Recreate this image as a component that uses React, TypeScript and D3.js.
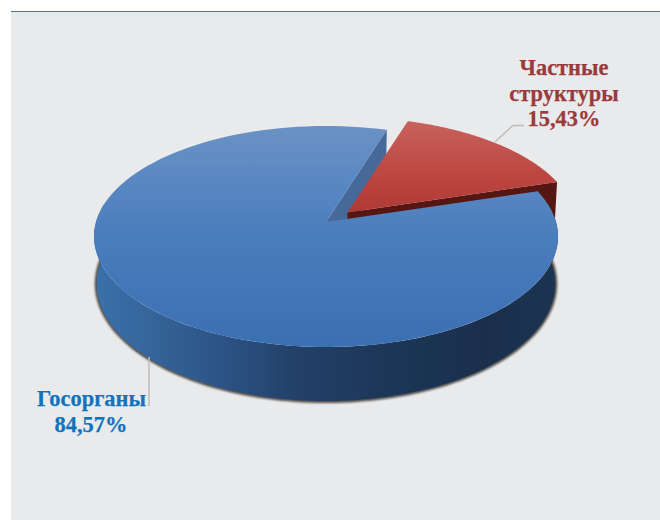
import * as d3 from "d3";

// Ownership shares, in percent
const categories = ["Частные структуры", "Госорганы"];
const shares = [15.43, 84.57];

const WIDTH = 660;
const HEIGHT = 520;
const DEG = Math.PI / 180;

// Planar perspective: a unit disc seen from above, with the hub ahead of the ellipse centre.
const HUB_X = 326;
const HUB_Y = 222;
const SPREAD_X = 230;
const SPREAD_Y = 108.6;
const TILT = -0.131;
const DEPTH = 46.5;
const EXPLODE_X = 21.5;
const EXPLODE_Y = -9.5;
const RED_RADIUS = 0.99;

type Pt = [number, number];

// drop = 0 is the top face, drop = 1 the underside, which reads a little rounder and narrower
function project(angle: number, radius: number, drop = 0): Pt {
  const u = Math.sin(angle) * radius;
  const v = -Math.cos(angle) * radius;
  const w = 1 + TILT * v;
  const narrow = 1 - 0.012 * drop;
  const round = 1 + 0.06 * drop;
  return [HUB_X + (SPREAD_X * narrow * u) / w, HUB_Y + (SPREAD_Y * round * v) / w + DEPTH * drop];
}

const rimPoints = (a0: number, a1: number, drop = 0, radius = 1): Pt[] =>
  d3.range(0, 121).map((i) => project(a0 + ((a1 - a0) * i) / 120, radius, drop));

const shift = (pts: Pt[], dx: number, dy: number): Pt[] => pts.map(([x, y]) => [x + dx, y + dy]);

const linePath = d3.line<Pt>().curve(d3.curveLinear);
const closed = (pts: Pt[]) => linePath(pts) + "Z";

const slices = d3
  .pie<number>()
  .sort(null)
  .startAngle(17.3 * DEG)
  .endAngle(377.3 * DEG)(shares);

const [redSlice, blueSlice] = slices;
const hub = project(0, 0);
const hubLow = project(0, 0, 1);

const blueTop = closed([hub, ...rimPoints(blueSlice.startAngle, blueSlice.endAngle)]);
const blueWall = closed([
  hub,
  project(blueSlice.endAngle, 1),
  project(blueSlice.endAngle, 1, 1),
  hubLow,
]);

// Front wall of the disc and the drop shadow along its lower rim
const sideLow = rimPoints(80 * DEG, 280 * DEG, 1);
const side = closed([...rimPoints(80 * DEG, 280 * DEG), ...[...sideLow].reverse()]);
const sideShadow = linePath(sideLow) as string;

const redArc = rimPoints(redSlice.startAngle, redSlice.endAngle, 0, RED_RADIUS);
const redTop = closed(shift([hub, ...redArc], EXPLODE_X, EXPLODE_Y));
const redWall = closed(
  shift(
    [hub, project(redSlice.endAngle, RED_RADIUS), project(redSlice.endAngle, RED_RADIUS, 1), hubLow],
    EXPLODE_X,
    EXPLODE_Y,
  ),
);

const percent = (v: number) => v.toFixed(2).replace(".", ",") + "%";
const font = "'Liberation Serif', 'Times New Roman', serif";

export default function App() {
  return (
    <svg
      width={WIDTH}
      height={HEIGHT}
      viewBox={`0 0 ${WIDTH} ${HEIGHT}`}
      style={{ position: "absolute", left: 0, top: 0, display: "block", background: "#fff" }}
    >
      <defs>
        <linearGradient id="blueFace" gradientUnits="userSpaceOnUse" x1="0" y1="126" x2="0" y2="347">
          <stop offset="0" stopColor="#6a92c6" />
          <stop offset="0.5" stopColor="#4a7dbd" />
          <stop offset="1" stopColor="#3a6fb2" />
        </linearGradient>
        <linearGradient id="redFace" gradientUnits="userSpaceOnUse" x1="0" y1="121" x2="0" y2="215">
          <stop offset="0" stopColor="#c8625c" />
          <stop offset="0.55" stopColor="#bd4742" />
          <stop offset="1" stopColor="#ae3833" />
        </linearGradient>
        <linearGradient id="blueSide" gradientUnits="userSpaceOnUse" x1="95" y1="0" x2="555" y2="0">
          <stop offset="0" stopColor="#3b70aa" />
          <stop offset="0.12" stopColor="#35659b" />
          <stop offset="0.27" stopColor="#2c5486" />
          <stop offset="0.45" stopColor="#223f66" />
          <stop offset="0.7" stopColor="#1b3454" />
          <stop offset="0.85" stopColor="#1a2f4c" />
          <stop offset="1" stopColor="#1b3452" />
        </linearGradient>
        <filter id="softShadow" x="-10%" y="-10%" width="120%" height="120%">
          <feGaussianBlur stdDeviation="1.3" />
        </filter>
      </defs>

      <rect x={11} y={11} width={WIDTH - 11} height={HEIGHT - 11} fill="#e9eaec" />
      <rect x={11} y={11} width={WIDTH - 11} height={1} fill="#54709c" />

      <path d={sideShadow} fill="none" stroke="#4e4b47" strokeWidth={4} filter="url(#softShadow)" />

      <path d={blueWall} fill="#46699a" />
      <path d={redWall} fill="#561612" />
      <path d={redTop} fill="url(#redFace)" />
      <path d={side} fill="url(#blueSide)" />
      <path d={blueTop} fill="url(#blueFace)" />

      <g fill="none" stroke="#bcbcbc" strokeWidth={1.5}>
        <polyline points="495,142 513,125.5 524,125.5" />
        <polyline points="149,357 149,406" />
      </g>

      <g fontFamily={font} fontWeight={700} fontSize={22.4} textAnchor="middle" strokeWidth={0.25}>
        <g fill="#9b3a3c" stroke="#9b3a3c">
          {categories[0].split(" ").map((line, i) => (
            <text key={line} x={564} y={75 + i * 25.5}>
              {line}
            </text>
          ))}
          <text x={564} y={126}>{percent(shares[0])}</text>
        </g>
        <g fill="#1273bd" stroke="#1273bd">
          <text x={91.5} y={406}>{categories[1]}</text>
          <text x={91} y={432}>{percent(shares[1])}</text>
        </g>
      </g>
    </svg>
  );
}
